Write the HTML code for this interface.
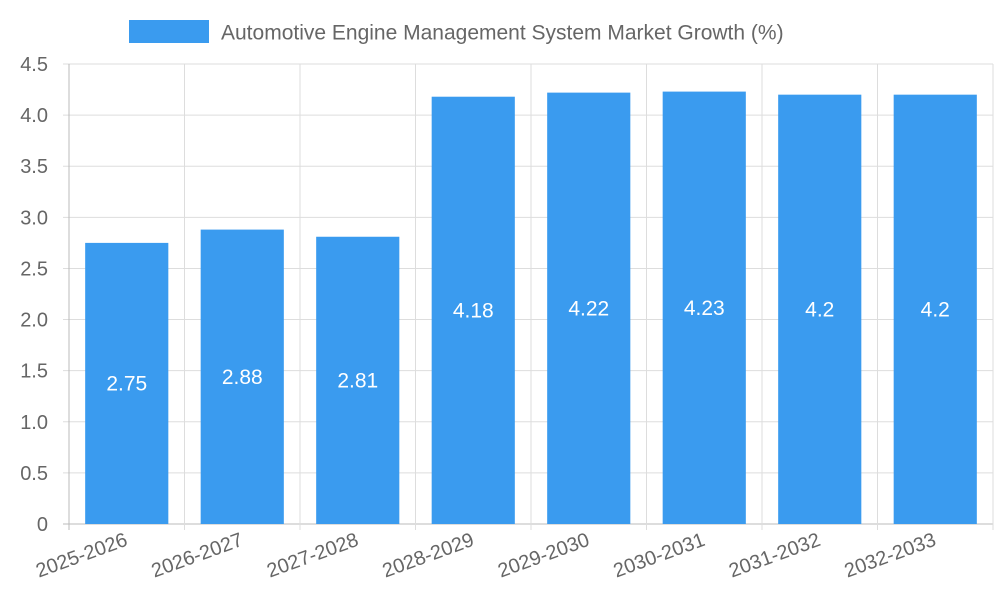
<!DOCTYPE html>
<html><head><meta charset="utf-8"><style>
html,body{margin:0;padding:0;background:#fff;width:1000px;height:600px;overflow:hidden}
svg text{font-family:"Liberation Sans",sans-serif}
</style></head><body>
<svg id="chart" width="1000" height="600" xmlns="http://www.w3.org/2000/svg">
<g id="legend">
<rect x="129" y="20" width="80" height="23" fill="#3a9bef"/>
<text x="221" y="39.5" font-size="21" fill="#666">Automotive Engine Management System Market Growth (%)</text>
</g>
<g id="grid"></g><g id="bars"></g><g id="labels"></g>
</svg>
<script>
const categories=["2025-2026","2026-2027","2027-2028","2028-2029","2029-2030","2030-2031","2031-2032","2032-2033"];
const values=[2.75,2.88,2.81,4.18,4.22,4.23,4.2,4.2];
const yTicks=[0,0.5,1.0,1.5,2.0,2.5,3.0,3.5,4.0,4.5];
const yTickLabels=["0","0.5","1.0","1.5","2.0","2.5","3.0","3.5","4.0","4.5"];
const X0=69,X1=993,Y0=524,Y1=64,YMAX=4.5;
const NS="http://www.w3.org/2000/svg";
const bw=(X1-X0)/categories.length;
const y=v=>Y0-(v/YMAX)*(Y0-Y1);
const xc=i=>X0+bw*(i+0.5);
function mk(t,a,p){const e=document.createElementNS(NS,t);for(const k in a)e.setAttribute(k,a[k]);p.appendChild(e);return e;}
const grid=document.getElementById('grid'),bars=document.getElementById('bars'),labels=document.getElementById('labels');
yTicks.forEach((v,i)=>{
 const l=mk('line',{x1:X0-6,x2:X1,y1:y(v),y2:y(v),stroke:i===0?'#bbb':'#ddd','stroke-width':1},grid);
 
 
 const t=mk('text',{x:48,y:y(v)+7,'text-anchor':'end','font-size':20,fill:'#666'},grid);
 t.textContent=yTickLabels[i];
 
 
});
for(let i=0;i<=categories.length;i++){
 const x=X0+bw*i;
 const l=mk('line',{x1:x,x2:x,y1:Y1,y2:Y0+6,stroke:i===0?'#bbb':'#ddd','stroke-width':1},grid);
 
 
}
categories.forEach((c,i)=>{
 const w=bw*0.72;
 const r=mk('rect',{x:xc(i)-w/2,y:y(values[i]),width:w,height:Y0-y(values[i]),fill:'#3a9bef'},bars);
 
 
 const t=mk('text',{x:xc(i),y:y(values[i]/2)+7,'text-anchor':'middle','font-size':21,fill:'#fff'},labels);
 t.textContent=String(values[i]);
 
 
 const xl=mk('text',{transform:`translate(${xc(i)+2},${545}) rotate(-20)`,'text-anchor':'end','font-size':20,fill:'#666'},labels);
 xl.textContent=c;
 
 
});
</script>
</body></html>
